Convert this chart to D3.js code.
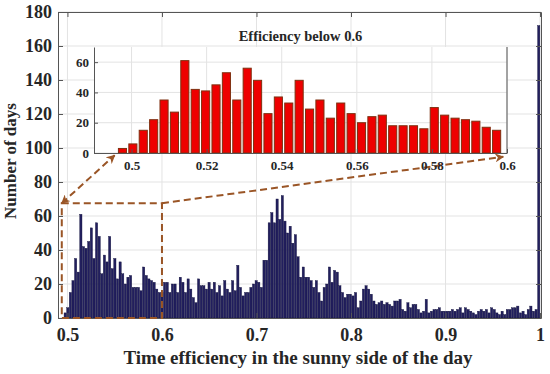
<!DOCTYPE html>
<html>
<head>
<meta charset="utf-8">
<script src="https://cdn.jsdelivr.net/npm/d3@7"></script>
<style>
body { margin: 0; background: #fff; }
text { font-family: "Liberation Serif", "Times New Roman", serif; font-weight: bold; fill: #262626; }
</style>
</head>
<body>
<svg id="chart" width="550" height="374"></svg>
<script>
// histogram bins: 182 equal bins from 0.4962 to 1
var binStart = 0.4962
var binEnd = 1.0
var binCount = 182

// counts per bin (first 37 bins are the ones in the inset)
var counts = [
    3, 6, 15, 22, 35, 27, 61, 42, 41, 45, 53, 35, 56, 48, 26, 37, 33, 48, 29, 35,
    23, 33, 26, 20, 24, 25, 18, 18, 18, 16, 30, 25, 23, 22, 21, 17, 15,
    15, 21, 21, 15, 20, 20, 15, 24, 21, 15, 23, 17, 12, 9, 23, 19, 19, 17, 21,
    17, 21, 15, 19, 13, 22, 17, 15,
    22, 16, 31, 18, 13, 15, 15, 18, 20, 22, 21, 18, 34, 34, 56, 62, 56, 70, 58, 72,
    57, 50, 54, 44, 49, 36, 24, 30, 24, 24, 22, 18, 22, 15, 10, 18, 20, 30, 21, 28,
    27, 19, 15, 12, 14, 14, 13, 15, 6, 10, 17, 19, 17, 14, 10, 8, 9, 10, 8, 9,
    8, 7, 10, 10, 11, 5, 4, 9,
    6, 8, 8, 5, 3, 4, 11,
    3, 4, 5, 5, 6, 4, 4, 4, 4, 5, 4, 5, 6, 3, 6, 5, 4, 3, 2, 4,
    5, 4, 5, 3, 6, 5, 3, 2, 4, 2, 5, 5, 6, 6, 7, 3, 4, 2, 5, 7,
    4, 5,
    172
]
var insetBins = 37

var xTicks = [0.5, 0.6, 0.7, 0.8, 0.9, 1]
var yTicks = [0, 20, 40, 60, 80, 100, 120, 140, 160, 180]
var insetXTicks = [0.5, 0.52, 0.54, 0.56, 0.58, 0.6]
var insetYTicks = [0, 20, 40, 60]

var zoomBox = {x0: 0.494, x1: 0.6, y0: 0, y1: 67.5}

var svg = d3.select('#chart')
var binWidth = (binEnd - binStart) / binCount
var bins = counts.map(function(c, i) {
    return {x0: binStart + i * binWidth, x1: binStart + (i + 1) * binWidth, n: c}
})

// main axes
var x = d3.scaleLinear().domain([0.49, 1.001]).range([58, 541])
var y = d3.scaleLinear().domain([0, 180]).range([318, 12])

var grid = svg.append('g').attr('stroke', '#e3e3e3').attr('stroke-width', 1)
grid.selectAll('.gx').data(xTicks).enter().append('line')
    .attr('x1', function(d) { return x(d) }).attr('x2', function(d) { return x(d) })
    .attr('y1', y(0)).attr('y2', y(180))
grid.selectAll('.gy').data(yTicks).enter().append('line')
    .attr('x1', x.range()[0]).attr('x2', x.range()[1])
    .attr('y1', function(d) { return y(d) }).attr('y2', function(d) { return y(d) })

svg.append('g').selectAll('rect').data(bins).enter().append('rect')
    .attr('x', function(d) { return x(d.x0) + 0.2 })
    .attr('width', function(d) { return x(d.x1) - x(d.x0) - 0.4 })
    .attr('y', function(d) { return y(d.n) })
    .attr('height', function(d) { return y(0) - y(d.n) })
    .attr('fill', '#221f5e')
    .attr('stroke', '#10103a')
    .attr('stroke-width', 0.4)

var axisColor = '#555'
var gB = svg.append('g').attr('transform', 'translate(0,' + y(0) + ')')
    .call(d3.axisBottom(x).tickValues(xTicks).tickSize(-5).tickSizeOuter(0).tickPadding(10)
        .tickFormat(function(d) { return String(+d.toFixed(1)) }))
var gL = svg.append('g').attr('transform', 'translate(' + x.range()[0] + ',0)')
    .call(d3.axisLeft(y).tickValues(yTicks).tickSize(-5).tickSizeOuter(0).tickPadding(6))
var gT = svg.append('g').attr('transform', 'translate(0,' + y(180) + ')')
    .call(d3.axisTop(x).tickValues(xTicks).tickSize(-5).tickSizeOuter(0).tickFormat(''))
var gR = svg.append('g').attr('transform', 'translate(' + x.range()[1] + ',0)')
    .call(d3.axisRight(y).tickValues(yTicks).tickSize(-5).tickSizeOuter(0).tickFormat(''))
;[gB, gL, gT, gR].forEach(function(g) {
    g.selectAll('path, line').attr('stroke', axisColor)
    g.selectAll('text').style('font-size', '18px').attr('fill', '#262626')
})

// zoom rectangle and arrows
var brown = '#9a5526'
svg.append('defs').append('marker')
    .attr('id', 'arrow')
    .attr('viewBox', '0 0 10 10')
    .attr('refX', 9).attr('refY', 5)
    .attr('markerWidth', 4.5).attr('markerHeight', 4.5)
    .attr('markerUnits', 'strokeWidth')
    .attr('orient', 'auto-start-reverse')
    .append('path')
    .attr('d', 'M0,0 L10,5 L0,10 L3,5 Z')
    .attr('fill', brown)

svg.append('rect')
    .attr('x', x(zoomBox.x0)).attr('y', y(zoomBox.y1))
    .attr('width', x(zoomBox.x1) - x(zoomBox.x0))
    .attr('height', y(zoomBox.y0) - y(zoomBox.y1))
    .attr('fill', 'none').attr('stroke', brown).attr('stroke-width', 2)
    .attr('stroke-dasharray', '7,4')

// inset axes
var ix = d3.scaleLinear().domain([0.49, 0.6]).range([94, 507])
var iy = d3.scaleLinear().domain([0, 70]).range([153, 47])

svg.append('line')
    .attr('x1', x(zoomBox.x0)).attr('y1', y(zoomBox.y1))
    .attr('x2', ix(0.4955)).attr('y2', iy(-1.5))
    .attr('stroke', brown).attr('stroke-width', 2).attr('stroke-dasharray', '7,4')
    .attr('marker-start', 'url(#arrow)').attr('marker-end', 'url(#arrow)')
svg.append('line')
    .attr('x1', x(zoomBox.x1)).attr('y1', y(zoomBox.y1))
    .attr('x2', ix(0.599)).attr('y2', iy(-2.5))
    .attr('stroke', brown).attr('stroke-width', 2).attr('stroke-dasharray', '7,4')
    .attr('marker-end', 'url(#arrow)')

var inset = svg.append('g')
inset.append('rect')
    .attr('x', ix.range()[0]).attr('y', iy.range()[1])
    .attr('width', ix.range()[1] - ix.range()[0])
    .attr('height', iy.range()[0] - iy.range()[1])
    .attr('fill', '#fff')

var igrid = inset.append('g').attr('stroke', '#e3e3e3').attr('stroke-width', 1)
igrid.selectAll('.gx').data(insetXTicks).enter().append('line')
    .attr('x1', function(d) { return ix(d) }).attr('x2', function(d) { return ix(d) })
    .attr('y1', iy(0)).attr('y2', iy(70))
igrid.selectAll('.gy').data(insetYTicks).enter().append('line')
    .attr('x1', ix.range()[0]).attr('x2', ix.range()[1])
    .attr('y1', function(d) { return iy(d) }).attr('y2', function(d) { return iy(d) })

inset.append('g').selectAll('rect').data(bins.slice(0, insetBins)).enter().append('rect')
    .attr('x', function(d) { return ix(d.x0) + (ix(d.x1) - ix(d.x0)) * 0.11 })
    .attr('width', function(d) { return (ix(d.x1) - ix(d.x0)) * 0.78 })
    .attr('y', function(d) { return iy(d.n) })
    .attr('height', function(d) { return iy(0) - iy(d.n) })
    .attr('fill', '#ee0000')
    .attr('stroke', '#7e3010')
    .attr('stroke-width', 1)

var iB = inset.append('g').attr('transform', 'translate(0,' + iy(0) + ')')
    .call(d3.axisBottom(ix).tickValues(insetXTicks).tickSize(-4).tickSizeOuter(0).tickPadding(8)
        .tickFormat(function(d) { return String(+d.toFixed(2)) }))
var iL = inset.append('g').attr('transform', 'translate(' + ix.range()[0] + ',0)')
    .call(d3.axisLeft(iy).tickValues(insetYTicks).tickSize(-4).tickSizeOuter(0).tickPadding(5))
;[iB, iL].forEach(function(g) {
    g.selectAll('path, line').attr('stroke', axisColor)
    g.selectAll('text').style('font-size', '13px').attr('fill', '#262626')
})
inset.append('line')
    .attr('x1', ix.range()[1]).attr('x2', ix.range()[1])
    .attr('y1', iy.range()[0]).attr('y2', iy.range()[1])
    .attr('stroke', axisColor)

inset.append('text')
    .attr('x', (ix.range()[0] + ix.range()[1]) / 2)
    .attr('y', 41)
    .attr('text-anchor', 'middle')
    .style('font-size', '14.5px')
    .text('Efficiency below 0.6')

// axis labels
svg.append('text')
    .attr('x', 298).attr('y', 364)
    .attr('text-anchor', 'middle')
    .style('font-size', '19px')
    .text('Time efficiency in the sunny side of the day')
svg.append('text')
    .attr('transform', 'translate(16,161) rotate(-90)')
    .attr('text-anchor', 'middle')
    .style('font-size', '17px')
    .text('Number of days')
</script>
</body>
</html>
